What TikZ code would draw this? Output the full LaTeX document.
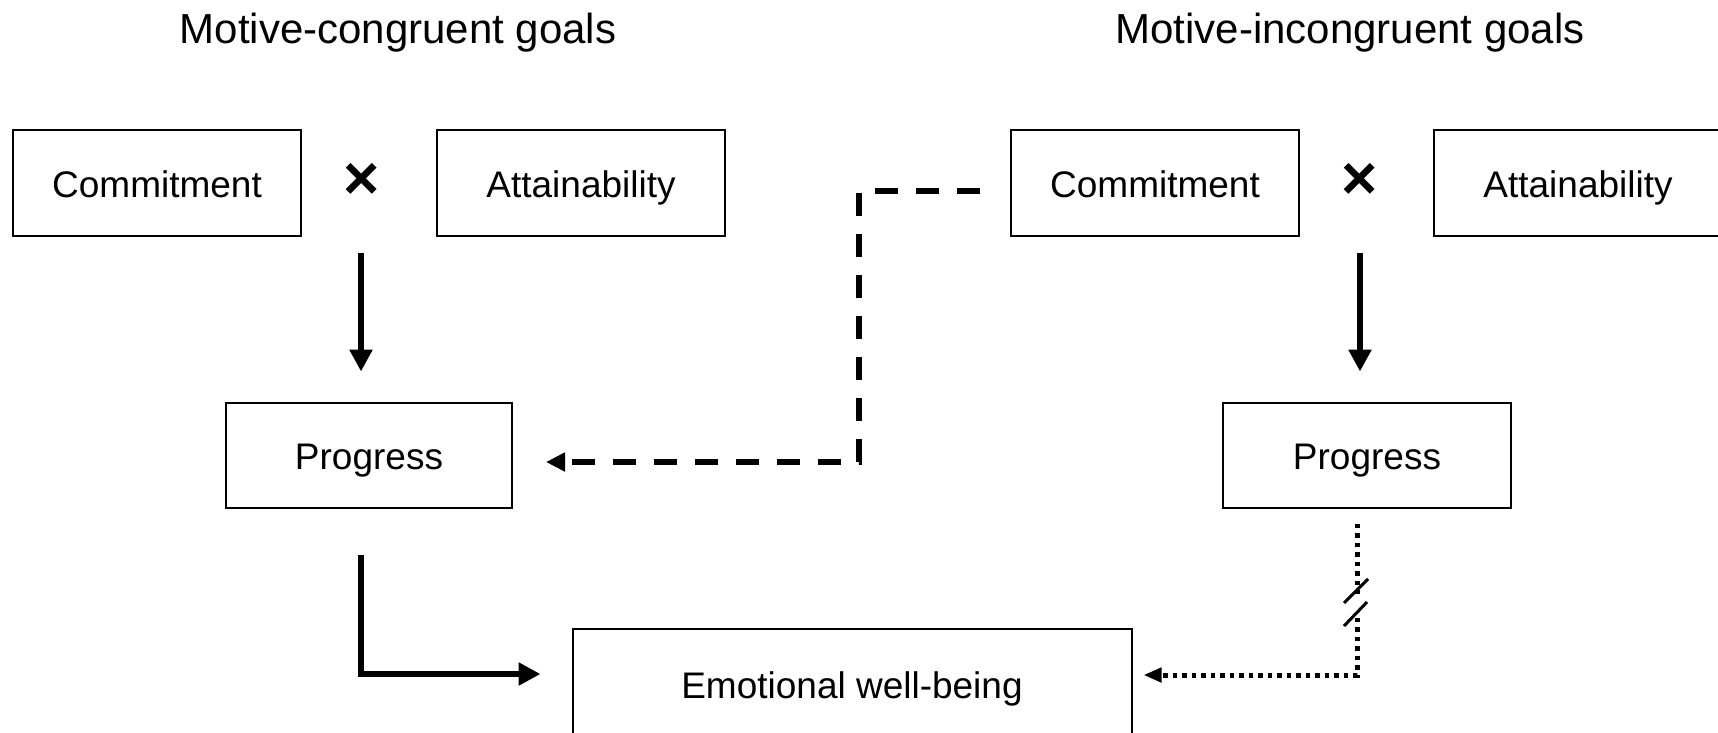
\documentclass[tikz,border=0pt]{standalone}
\usepackage{fontspec}
\setmainfont{Liberation Sans}
\usetikzlibrary{arrows.meta}
\tikzset{
  cadre/.style={draw,line width=2pt,minimum width=288pt,minimum height=106pt,text height=36pt,text depth=8pt,font=\fontsize{37}{44}\selectfont},
  titre/.style={font=\fontsize{42}{50}\selectfont},
  croix/.style={font=\fontsize{62}{70}\selectfont\bfseries},
  fleche/.style={line width=5.5pt,-{Triangle[length=22pt,width=22pt]}},
  tirets/.style={line width=6pt,dash pattern=on 23pt off 18pt,-{Triangle[length=19pt,width=18pt]}},
  pointilles/.style={line width=5pt,dash pattern=on 4.5pt off 5pt},
  trait/.style={line width=3pt}
}
\begin{document}
\begin{tikzpicture}[x=1pt,y=-1pt]
\useasboundingbox (0,0) rectangle (1718,732);
\node[titre](titreG) at (398,33){Motive-congruent goals};
\node[titre](titreD) at (1350,33){Motive-incongruent goals};
\node[cadre](comG) at (157,183){Commitment};
\node[croix](croixG) at (362,181){×};
\node[cadre](attG) at (581,183){Attainability};
\node[cadre,minimum width=286pt,minimum height=105pt](progG) at (369,455){Progress};
\node[cadre](comD) at (1155,183){Commitment};
\node[croix](croixD) at (1360,181){×};
\node[cadre](attD) at (1578,183){Attainability};
\node[cadre,minimum width=288pt,minimum height=105pt](progD) at (1367,455){Progress};
\node[cadre,minimum width=559pt,minimum height=110pt](bien) at (852,684){Emotional well-being};
\draw[fleche,shorten <=16pt,shorten >=30pt] ([xshift=-8pt]progG.north |- comG.south) -- ([xshift=-8pt]progG.north);
\draw[fleche,shorten <=16pt,shorten >=30pt] ([xshift=-7pt]progD.north |- comD.south) -- ([xshift=-7pt]progD.north);
\draw[tirets,shorten >=33pt] ([xshift=-30pt,yshift=-8pt]comD.west) -- ++(-121,0) |- ([yshift=-7pt]progG.east);
\draw[fleche,shorten >=31pt] ([xshift=-8pt,yshift=-46pt]progG.south) |- ([yshift=10pt]bien.west);
% coupure
\draw[pointilles] ([xshift=-10pt,yshift=-15pt]progD.south) -- ++(0,70);
\draw[pointilles,-{Triangle[length=18pt,width=14pt]},shorten >=11pt] ([xshift=-10pt,yshift=-109pt]progD.south) |- ([yshift=9pt]bien.east);
\draw[trait] (1344,603) -- ++(24,-24);
\draw[trait] (1344,626) -- ++(23,-24);
\end{tikzpicture}
\end{document}
